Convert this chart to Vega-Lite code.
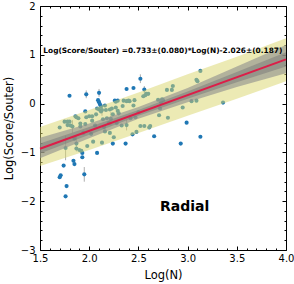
{
  "$schema": "https://vega.github.io/schema/vega-lite/v6.json",
  "autosize": "none",
  "padding": {"left": 40, "top": 6, "right": 8, "bottom": 34},
  "width": 246,
  "height": 244,
  "background": "white",
  "config": {
    "view": {"stroke": null},
    "font": "DejaVu Sans",
    "axis": {
      "domainColor": "black", "tickColor": "black", "labelColor": "black", "titleColor": "black",
      "labelFont": "DejaVu Sans", "titleFont": "DejaVu Sans", "labelFontSize": 10, "titleFontSize": 11.5,
      "titleFontWeight": "normal", "grid": false, "domainWidth": 1, "tickWidth": 1, "labelOverlap": false, "labelFlush": false
    }
  },
  "datasets": {
    "pts": [
      {"x": 1.80, "y": 0.16}, {"x": 1.97, "y": 0.19}, {"x": 2.10, "y": 0.22}, {"x": 2.09, "y": 0.07},
      {"x": 2.10, "y": 0.03}, {"x": 2.11, "y": -0.02}, {"x": 2.12, "y": -0.06}, {"x": 2.38, "y": 0.30},
      {"x": 2.45, "y": 0.32}, {"x": 2.52, "y": 0.51}, {"x": 2.56, "y": 0.29}, {"x": 3.13, "y": 0.67},
      {"x": 3.36, "y": 0.02}, {"x": 2.99, "y": -0.39}, {"x": 3.13, "y": -0.68}, {"x": 2.66, "y": -0.67},
      {"x": 2.44, "y": -0.63}, {"x": 2.24, "y": -0.82}, {"x": 2.37, "y": -0.82}, {"x": 2.93, "y": -0.82},
      {"x": 2.08, "y": -1.01}, {"x": 1.93, "y": -1.10}, {"x": 1.84, "y": -1.17}, {"x": 1.85, "y": -1.24},
      {"x": 1.74, "y": -1.27}, {"x": 1.95, "y": -1.45}, {"x": 1.71, "y": -1.47}, {"x": 1.70, "y": -1.51},
      {"x": 1.77, "y": -1.69}, {"x": 1.76, "y": -1.90},
      {"x": 1.70, "y": -0.49}, {"x": 1.75, "y": -0.37}, {"x": 1.78, "y": -0.37}, {"x": 1.80, "y": -0.37},
      {"x": 1.81, "y": -0.45}, {"x": 1.83, "y": -0.47}, {"x": 1.76, "y": -0.91}, {"x": 1.78, "y": -0.44},
      {"x": 1.86, "y": -0.26}, {"x": 1.87, "y": -0.28}, {"x": 1.87, "y": -0.82}, {"x": 1.87, "y": -0.92},
      {"x": 1.89, "y": -0.30}, {"x": 1.91, "y": -0.41}, {"x": 1.90, "y": -0.95}, {"x": 1.92, "y": -0.97},
      {"x": 1.93, "y": -1.01}, {"x": 1.91, "y": -0.47}, {"x": 1.97, "y": -0.28}, {"x": 1.96, "y": -0.42},
      {"x": 1.96, "y": -0.16}, {"x": 1.98, "y": -0.87}, {"x": 2.00, "y": -0.26}, {"x": 2.03, "y": -0.26},
      {"x": 2.03, "y": -0.35}, {"x": 2.04, "y": -0.78}, {"x": 2.07, "y": -0.22}, {"x": 2.08, "y": -0.10},
      {"x": 2.10, "y": -0.12}, {"x": 2.12, "y": -0.16}, {"x": 2.13, "y": -0.13}, {"x": 2.13, "y": -0.80},
      {"x": 2.14, "y": -0.32}, {"x": 2.16, "y": -0.04}, {"x": 2.16, "y": -0.57}, {"x": 2.17, "y": -0.13},
      {"x": 2.18, "y": -0.30}, {"x": 2.20, "y": -0.40}, {"x": 2.21, "y": -0.60}, {"x": 2.21, "y": -0.12},
      {"x": 2.22, "y": -0.31}, {"x": 2.23, "y": -0.10}, {"x": 2.25, "y": -0.69}, {"x": 2.26, "y": 0.06},
      {"x": 2.27, "y": 0.04}, {"x": 2.27, "y": -0.08}, {"x": 2.28, "y": -0.40}, {"x": 2.29, "y": -0.15},
      {"x": 2.30, "y": -0.20}, {"x": 2.29, "y": 0.06}, {"x": 2.33, "y": -0.45}, {"x": 2.34, "y": -0.05},
      {"x": 2.35, "y": 0.06}, {"x": 2.38, "y": 0.05}, {"x": 2.38, "y": -0.44}, {"x": 2.40, "y": 0.06},
      {"x": 2.41, "y": 0.05}, {"x": 2.45, "y": -0.04}, {"x": 2.46, "y": 0.07}, {"x": 2.52, "y": -0.46},
      {"x": 2.55, "y": 0.15}, {"x": 2.56, "y": -0.46}, {"x": 2.57, "y": 0.17}, {"x": 2.58, "y": 0.20},
      {"x": 2.60, "y": 0.20}, {"x": 2.61, "y": -0.49}, {"x": 2.62, "y": -0.46}, {"x": 2.71, "y": -0.24},
      {"x": 2.72, "y": -0.10}, {"x": 2.70, "y": 0.08}, {"x": 2.74, "y": 0.09}, {"x": 2.75, "y": 0.07},
      {"x": 2.73, "y": 0.03}, {"x": 2.79, "y": 0.28}, {"x": 2.84, "y": 0.28}, {"x": 2.85, "y": 0.36},
      {"x": 2.80, "y": -0.29}, {"x": 2.95, "y": -0.08}, {"x": 3.04, "y": 0.05}, {"x": 3.09, "y": 0.06},
      {"x": 3.09, "y": 0.49}, {"x": 3.10, "y": 0.46}, {"x": 2.02, "y": -0.62}, {"x": 2.15, "y": -0.48},
      {"x": 1.85, "y": -0.72}, {"x": 2.42, "y": -0.30}, {"x": 2.50, "y": -0.18}, {"x": 2.47, "y": -0.28},
      {"x": 2.48, "y": -0.58}, {"x": 1.94, "y": -0.60}, {"x": 2.06, "y": -0.45}, {"x": 2.24, "y": -0.22}
    ],
    "err": [
      {"x": 1.97, "lo": 0.11, "hi": 0.27}, {"x": 2.52, "lo": 0.42, "hi": 0.60}, {"x": 2.56, "lo": 0.22, "hi": 0.36},
      {"x": 1.76, "lo": -1.16, "hi": -0.66}, {"x": 1.95, "lo": -1.60, "hi": -1.30}, {"x": 1.87, "lo": -0.98, "hi": -0.66},
      {"x": 2.13, "lo": -0.25, "hi": -0.01}, {"x": 2.22, "lo": -0.45, "hi": -0.17}, {"x": 1.83, "lo": -0.60, "hi": -0.34},
      {"x": 2.10, "lo": 0.14, "hi": 0.30}, {"x": 2.38, "lo": -0.55, "hi": -0.33}
    ],
    "band": [
      {"x": 1.5, "ylo": -1.28, "yhi": -0.48, "glo": -1.12, "ghi": -0.70, "dlo": -1.02, "dhi": -0.82},
      {"x": 2.0, "ylo": -0.95, "yhi": -0.13, "glo": -0.71, "ghi": -0.41, "dlo": -0.64, "dhi": -0.48},
      {"x": 2.5, "ylo": -0.60, "yhi": 0.23, "glo": -0.31, "ghi": -0.07, "dlo": -0.25, "dhi": -0.13},
      {"x": 3.0, "ylo": -0.25, "yhi": 0.60, "glo": 0.03, "ghi": 0.32, "dlo": 0.10, "dhi": 0.25},
      {"x": 3.5, "ylo": 0.10, "yhi": 0.96, "glo": 0.34, "ghi": 0.76, "dlo": 0.44, "dhi": 0.65},
      {"x": 4.0, "ylo": 0.46, "yhi": 1.34, "glo": 0.62, "ghi": 1.20, "dlo": 0.76, "dhi": 1.05}
    ],
    "fit": [{"x": 1.5, "y": -0.926}, {"x": 4.0, "y": 0.906}]
  },
  "layer": [
    {
      "data": {"name": "err"},
      "mark": {"type": "rule", "color": "#999999", "strokeWidth": 1, "opacity": 0.8},
      "encoding": {
        "x": {"field": "x", "type": "quantitative", "scale": {"domain": [1.5, 4.0], "nice": false, "zero": false}, "axis": null},
        "y": {"field": "lo", "type": "quantitative", "scale": {"domain": [-3, 2], "nice": false, "zero": false}, "axis": null},
        "y2": {"field": "hi"}
      }
    },
    {
      "data": {"name": "pts"},
      "mark": {"type": "circle", "color": "#1f77b4", "size": 17, "opacity": 1},
      "encoding": {
        "x": {"field": "x", "type": "quantitative", "scale": {"domain": [1.5, 4.0], "nice": false, "zero": false},
          "axis": {"orient": "bottom", "title": "Log(N)", "titlePadding": 4,
            "values": [1.5,1.6,1.7,1.8,1.9,2.0,2.1,2.2,2.3,2.4,2.5,2.6,2.7,2.8,2.9,3.0,3.1,3.2,3.3,3.4,3.5,3.6,3.7,3.8,3.9,4.0],
            "labelExpr": "abs(datum.value*2 - round(datum.value*2)) < 0.001 ? format(datum.value, '.1f') : ''",
            "tickSize": {"condition": {"test": "abs(datum.value*2 - round(datum.value*2)) < 0.001", "value": -4}, "value": -2},
            "labelPadding": 7}},
        "y": {"field": "y", "type": "quantitative", "scale": {"domain": [-3, 2], "nice": false, "zero": false},
          "axis": {"orient": "left", "title": "Log(Score/Souter)", "titlePadding": 6,
            "values": [-3,-2.8,-2.6,-2.4,-2.2,-2,-1.8,-1.6,-1.4,-1.2,-1,-0.8,-0.6,-0.4,-0.2,0,0.2,0.4,0.6,0.8,1,1.2,1.4,1.6,1.8,2],
            "labelExpr": "abs(datum.value - round(datum.value)) < 0.001 ? format(round(datum.value), 'd') : ''",
            "tickSize": {"condition": {"test": "abs(datum.value - round(datum.value)) < 0.001", "value": -4}, "value": -2},
            "labelPadding": 9}}
      }
    },
    {
      "data": {"name": "band"},
      "mark": {"type": "area", "color": "#d9d56a", "opacity": 0.5},
      "encoding": {
        "x": {"field": "x", "type": "quantitative", "scale": {"domain": [1.5, 4.0], "nice": false, "zero": false}, "axis": null},
        "y": {"field": "ylo", "type": "quantitative", "scale": {"domain": [-3, 2], "nice": false, "zero": false}, "axis": null},
        "y2": {"field": "yhi"}
      }
    },
    {
      "data": {"name": "band"},
      "mark": {"type": "area", "color": "#8c8c8c", "opacity": 0.6},
      "encoding": {
        "x": {"field": "x", "type": "quantitative", "scale": {"domain": [1.5, 4.0], "nice": false, "zero": false}, "axis": null},
        "y": {"field": "glo", "type": "quantitative", "scale": {"domain": [-3, 2], "nice": false, "zero": false}, "axis": null},
        "y2": {"field": "ghi"}
      }
    },
    {
      "data": {"name": "band"},
      "mark": {"type": "area", "color": "#777777", "opacity": 0.5},
      "encoding": {
        "x": {"field": "x", "type": "quantitative", "scale": {"domain": [1.5, 4.0], "nice": false, "zero": false}, "axis": null},
        "y": {"field": "dlo", "type": "quantitative", "scale": {"domain": [-3, 2], "nice": false, "zero": false}, "axis": null},
        "y2": {"field": "dhi"}
      }
    },
    {
      "data": {"name": "fit"},
      "mark": {"type": "line", "color": "#dc1e48", "strokeWidth": 2},
      "encoding": {
        "x": {"field": "x", "type": "quantitative", "scale": {"domain": [1.5, 4.0], "nice": false, "zero": false},
          "axis": {"orient": "top", "title": null, "labels": false,
            "values": [1.5,1.6,1.7,1.8,1.9,2.0,2.1,2.2,2.3,2.4,2.5,2.6,2.7,2.8,2.9,3.0,3.1,3.2,3.3,3.4,3.5,3.6,3.7,3.8,3.9,4.0],
            "tickSize": {"condition": {"test": "abs(datum.value*2 - round(datum.value*2)) < 0.001", "value": -4}, "value": -2}}},
        "y": {"field": "y", "type": "quantitative", "scale": {"domain": [-3, 2], "nice": false, "zero": false},
          "axis": {"orient": "right", "title": null, "labels": false,
            "values": [-3,-2.8,-2.6,-2.4,-2.2,-2,-1.8,-1.6,-1.4,-1.2,-1,-0.8,-0.6,-0.4,-0.2,0,0.2,0.4,0.6,0.8,1,1.2,1.4,1.6,1.8,2],
            "tickSize": {"condition": {"test": "abs(datum.value - round(datum.value)) < 0.001", "value": -4}, "value": -2}}}
      }
    },
    {
      "data": {"values": [{"label": "Log(Score/Souter) =0.733±(0.080)*Log(N)-2.026±(0.187)"}]},
      "mark": {"type": "text", "font": "DejaVu Sans", "fontWeight": "bold", "fontSize": 7.4, "align": "left", "baseline": "middle", "color": "black"},
      "encoding": {
        "x": {"datum": 1.534, "type": "quantitative", "scale": {"domain": [1.5, 4.0], "nice": false, "zero": false}, "axis": null},
        "y": {"datum": 1.078, "type": "quantitative", "scale": {"domain": [-3, 2], "nice": false, "zero": false}, "axis": null},
        "text": {"field": "label"}
      }
    },
    {
      "data": {"values": [{"label": "Radial"}]},
      "mark": {"type": "text", "font": "DejaVu Sans", "fontWeight": "bold", "fontSize": 14, "align": "center", "baseline": "middle", "color": "black"},
      "encoding": {
        "x": {"datum": 2.97, "type": "quantitative", "scale": {"domain": [1.5, 4.0], "nice": false, "zero": false}, "axis": null},
        "y": {"datum": -2.12, "type": "quantitative", "scale": {"domain": [-3, 2], "nice": false, "zero": false}, "axis": null},
        "text": {"field": "label"}
      }
    }
  ],
  "resolve": {"axis": {"x": "independent", "y": "independent"}}
}
